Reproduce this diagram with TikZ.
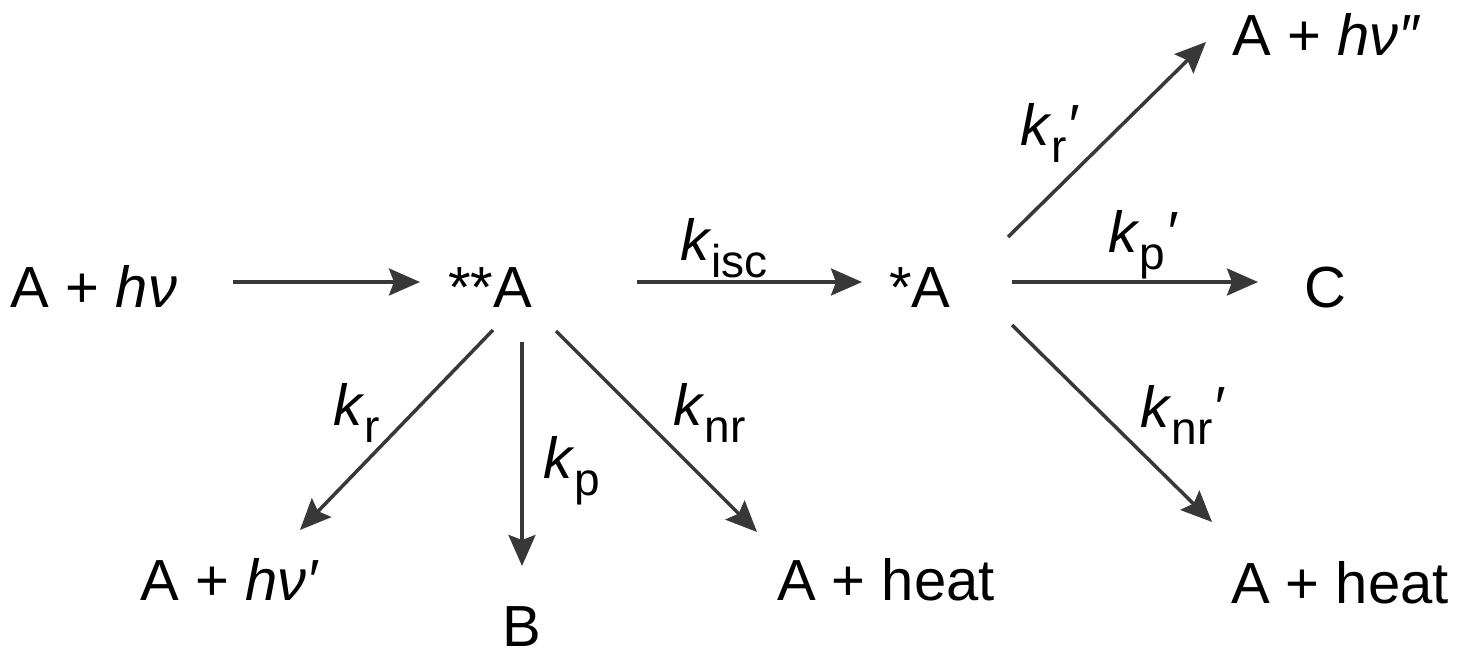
\documentclass[tikz,border=0pt]{standalone}
\usepackage{fontspec}
\setmainfont{Liberation Sans}
\usetikzlibrary{arrows.meta}
\newcommand{\klab}[2]{\textit{k}\raisebox{-17pt}{\fontsize{46}{46}\selectfont #1}#2}
\newcommand{\prm}{\textit{′}}
\begin{document}
\begin{tikzpicture}[x=1pt,y=-1pt,
  txt/.style={inner sep=0pt, anchor=base, font=\fontsize{58}{60}\selectfont},
  lbl/.style={inner sep=0pt, anchor=base west, font=\fontsize{58}{60}\selectfont},
  arr/.style={draw=black!78, line width=3.5pt, -{Stealth[length=31pt,width=27pt,inset=5pt]}}]
\useasboundingbox (0,0) rectangle (1465,659);
% species
\node[txt] (a0) at (94,307) {A + \textit{hν}};
\node[txt] (a2) at (490,307) {**A};
\node[txt] (a1) at (920,307) {*A};
\node[txt] (c) at (1325,307) {C};
\node[txt] (hv2) at (1327,55) {A + \textit{hν″}};
\node[txt] (heat2) at (1340,603) {A + heat};
\node[txt] (hv1) at (230,600) {A + \textit{hν′}};
\node[txt] (b) at (522,646) {B};
\node[txt] (heat1) at (886,600) {A + heat};
% connectors
\draw[arr] ([shift={(139,-25)}]a0.base) -- ([shift={(-70,-25)}]a2.base);
\draw[arr] ([shift={(147,-25)}]a2.base) -- ([shift={(-58,-25)}]a1.base);
\draw[arr] ([shift={(92,-25)}]a1.base) -- ([shift={(-67,-25)}]c.base);
\draw[arr] ([shift={(88,-70)}]a1.base) -- ([shift={(-121,-13)}]hv2.base);
\draw[arr] ([shift={(92,18)}]a1.base) -- ([shift={(-128,-81)}]heat2.base);
\draw[arr] ([shift={(3,23)}]a2.base) -- ([shift={(70,-70)}]hv1.base);
\draw[arr] ([shift={(32,35)}]a2.base) -- ([shift={(0,-80)}]b.base);
\draw[arr] ([shift={(66,24)}]a2.base) -- ([shift={(-129,-68)}]heat1.base);
% rate labels
\node[lbl] (lisc) at (680,260) {\klab{isc}{}};
\node[lbl] (lr) at (333,425) {\klab{r}{}};
\node[lbl] (lp) at (543,478) {\klab{p}{}};
\node[lbl] (lnr) at (673,425) {\klab{nr}{}};
\node[lbl] (lr2) at (1020,145) {\klab{r}{\prm}};
\node[lbl] (lp2) at (1108,252) {\klab{p}{\prm}};
\node[lbl] (lnr2) at (1140,427) {\klab{nr}{\prm}};
\end{tikzpicture}
\end{document}
